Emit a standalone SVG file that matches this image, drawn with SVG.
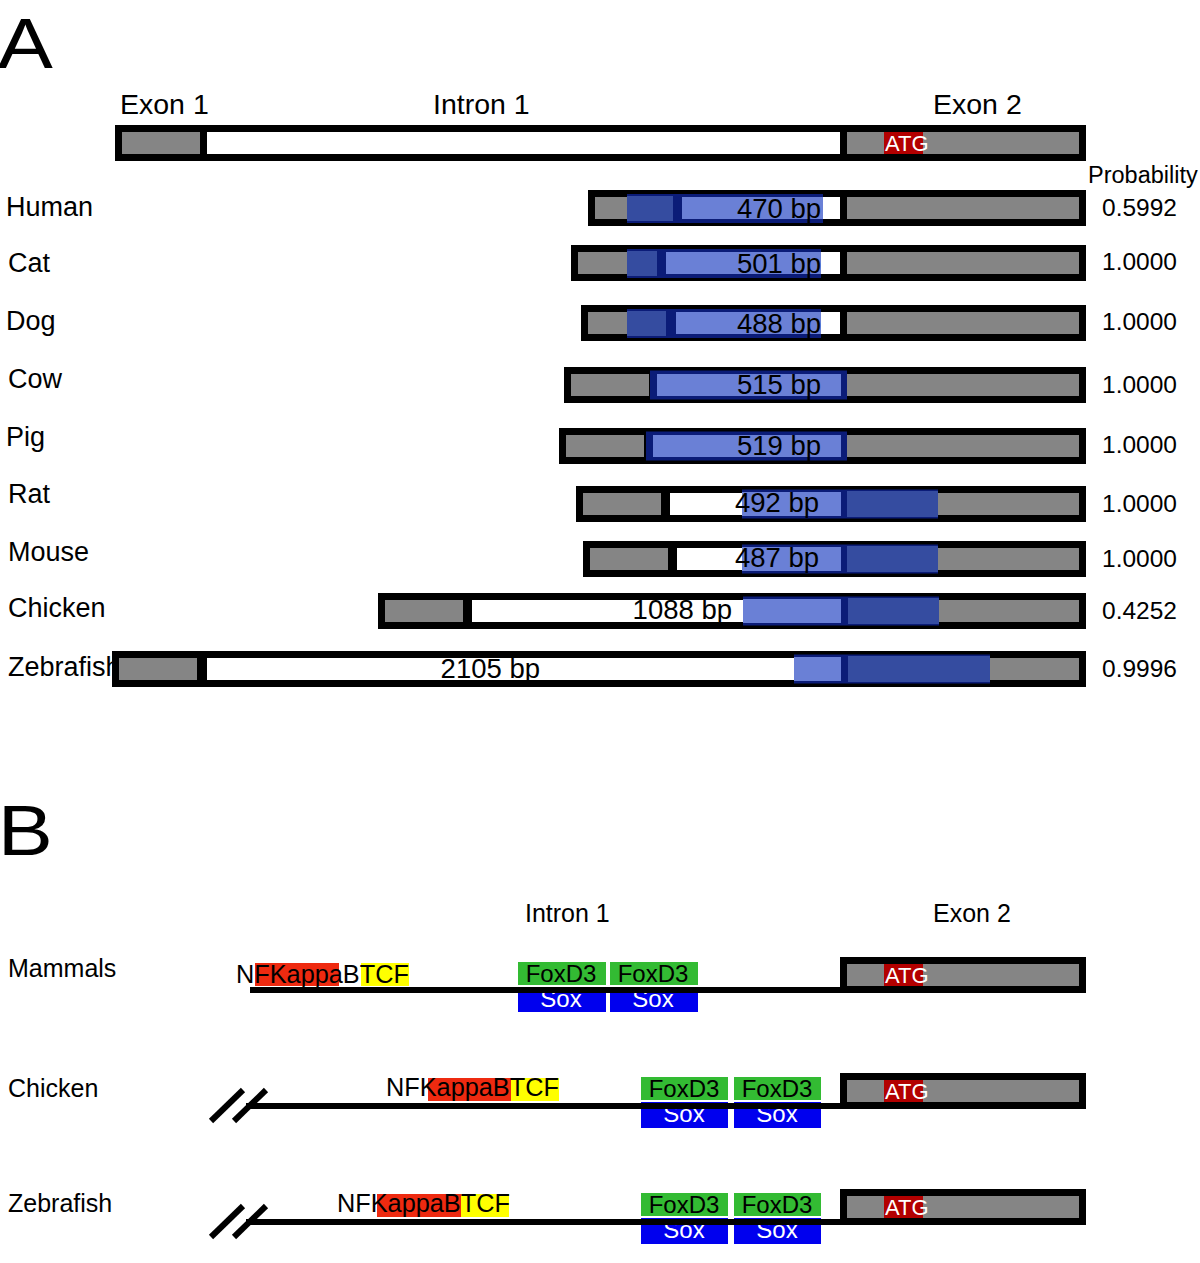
<svg xmlns="http://www.w3.org/2000/svg" width="1200" height="1263" viewBox="0 0 1200 1263">
<style>
text{font-family:"Liberation Sans",Arial,sans-serif;fill:#000}
.big{font-size:70px}
.hd{font-size:28.5px}
.sp{font-size:27px}
.pr{font-size:24.5px}
.bp{font-size:27.5px;text-anchor:end}
.atg{font-size:22px;fill:#fff}
.k{fill:#000}
.g{fill:#858585}
.w{fill:#fff}
.nv{fill:#0b1c78}
.db{fill:#354ca0}
.lb{fill:#6a80d6}
.red{fill:#b30000}
.nf{fill:#ee2a10}
.ye{fill:#ffff00}
.gr{fill:#33bb33}
.bl{fill:#0000ee}
.tf{font-size:24px;text-anchor:middle}
.sx{font-size:24px;text-anchor:middle;fill:#fff}
.bl2{font-size:25px}
</style>

<g id="panelA">
<text class="big" x="-2" y="68" transform="scale(1.18,1)">A</text>
<text class="hd" x="120" y="114">Exon 1</text>
<text class="hd" x="433" y="114">Intron 1</text>
<text class="hd" x="933" y="114">Exon 2</text>
<text x="1088" y="183" style="font-size:23.5px">Probability</text>

<g id="gene">
<rect x="115" y="125" width="971" height="36" class="k"/>
<rect x="122" y="132" width="78" height="22" class="g"/>
<rect x="207" y="132" width="633" height="22" class="w"/>
<rect x="847" y="132" width="232" height="22" class="g"/>
<rect x="884" y="132" width="39" height="22" class="red"/>
<text class="atg" x="885" y="151">ATG</text>
</g>

<g id="human">
<text class="sp" x="6" y="216">Human</text>
<rect x="588" y="190" width="498" height="36" class="k"/>
<rect x="595" y="197" width="90" height="22" class="g"/>
<rect x="685" y="197" width="155" height="22" class="w"/>
<rect x="847" y="197" width="232" height="22" class="g"/>
<rect x="627" y="194" width="196" height="29" class="nv"/>
<rect x="627" y="196" width="46" height="25" class="db"/>
<rect x="682" y="197" width="141" height="22" class="lb"/>
<text class="bp" x="821" y="218">470 bp</text>
<text class="pr" x="1102" y="216">0.5992</text>
</g>

<g id="cat">
<text class="sp" x="8" y="272">Cat</text>
<rect x="571" y="245" width="515" height="36" class="k"/>
<rect x="578" y="252" width="90" height="22" class="g"/>
<rect x="668" y="252" width="172" height="22" class="w"/>
<rect x="847" y="252" width="232" height="22" class="g"/>
<rect x="627" y="249" width="194" height="29" class="nv"/>
<rect x="627" y="251" width="30" height="25" class="db"/>
<rect x="666" y="252" width="155" height="22" class="lb"/>
<text class="bp" x="821" y="273">501 bp</text>
<text class="pr" x="1102" y="270">1.0000</text>
</g>

<g id="dog">
<text class="sp" x="6" y="330">Dog</text>
<rect x="581" y="305" width="505" height="36" class="k"/>
<rect x="588" y="312" width="90" height="22" class="g"/>
<rect x="678" y="312" width="162" height="22" class="w"/>
<rect x="847" y="312" width="232" height="22" class="g"/>
<rect x="627" y="309" width="194" height="29" class="nv"/>
<rect x="627" y="311" width="39" height="25" class="db"/>
<rect x="676" y="312" width="145" height="22" class="lb"/>
<text class="bp" x="821" y="333">488 bp</text>
<text class="pr" x="1102" y="330">1.0000</text>
</g>

<g id="cow">
<text class="sp" x="8" y="388">Cow</text>
<rect x="564" y="367" width="522" height="36" class="k"/>
<rect x="571" y="374" width="78" height="22" class="g"/>
<rect x="847" y="374" width="232" height="22" class="g"/>
<rect x="650" y="370.5" width="197" height="29" class="nv"/>
<rect x="657" y="374" width="184" height="22" class="lb"/>
<text class="bp" x="821" y="394">515 bp</text>
<text class="pr" x="1102" y="393">1.0000</text>
</g>

<g id="pig">
<text class="sp" x="6" y="446">Pig</text>
<rect x="559" y="428" width="527" height="36" class="k"/>
<rect x="566" y="435" width="78" height="22" class="g"/>
<rect x="847" y="435" width="232" height="22" class="g"/>
<rect x="646" y="431.5" width="201" height="29" class="nv"/>
<rect x="653" y="435" width="188" height="22" class="lb"/>
<text class="bp" x="821" y="455">519 bp</text>
<text class="pr" x="1102" y="453">1.0000</text>
</g>

<g id="rat">
<text class="sp" x="8" y="503">Rat</text>
<rect x="576" y="486" width="510" height="36" class="k"/>
<rect x="583" y="493" width="78" height="22" class="g"/>
<rect x="670" y="493" width="170" height="22" class="w"/>
<rect x="847" y="493" width="232" height="22" class="g"/>
<rect x="742" y="489.5" width="196" height="29" class="nv"/>
<rect x="742" y="492" width="99" height="24" class="lb"/>
<rect x="847" y="491" width="91" height="26" class="db"/>
<text class="bp" x="819" y="512">492 bp</text>
<text class="pr" x="1102" y="512">1.0000</text>
</g>

<g id="mouse">
<text class="sp" x="8" y="561">Mouse</text>
<rect x="583" y="541" width="503" height="36" class="k"/>
<rect x="590" y="548" width="78" height="22" class="g"/>
<rect x="677" y="548" width="163" height="22" class="w"/>
<rect x="847" y="548" width="232" height="22" class="g"/>
<rect x="742" y="544.5" width="196" height="29" class="nv"/>
<rect x="742" y="547" width="99" height="24" class="lb"/>
<rect x="847" y="546" width="91" height="26" class="db"/>
<text class="bp" x="819" y="567">487 bp</text>
<text class="pr" x="1102" y="567">1.0000</text>
</g>

<g id="chicken">
<text class="sp" x="8" y="617">Chicken</text>
<rect x="378" y="593" width="708" height="36" class="k"/>
<rect x="385" y="600" width="78" height="22" class="g"/>
<rect x="472" y="600" width="368" height="22" class="w"/>
<rect x="847" y="600" width="232" height="22" class="g"/>
<rect x="743" y="596.5" width="196" height="29" class="nv"/>
<rect x="743" y="599" width="98" height="24" class="lb"/>
<rect x="848" y="598" width="91" height="26" class="db"/>
<text class="bp" x="732" y="619">1088 bp</text>
<text class="pr" x="1102" y="619">0.4252</text>
</g>

<g id="zebrafish">
<text class="sp" x="8" y="676">Zebrafish</text>
<rect x="112" y="651" width="974" height="36" class="k"/>
<rect x="119" y="658" width="78" height="22" class="g"/>
<rect x="207" y="658" width="633" height="22" class="w"/>
<rect x="847" y="658" width="232" height="22" class="g"/>
<rect x="794" y="654.5" width="196" height="29" class="nv"/>
<rect x="794" y="657" width="47" height="24" class="lb"/>
<rect x="848" y="656" width="142" height="26" class="db"/>
<text class="bp" x="540" y="678">2105 bp</text>
<text class="pr" x="1102" y="677">0.9996</text>
</g>
</g>

<g id="panelB">
<text class="big" x="-2" y="855" transform="scale(1.18,1)">B</text>
<text class="bl2" x="525" y="922">Intron 1</text>
<text class="bl2" x="933" y="922">Exon 2</text>

<g id="mammals">
<text class="bl2" x="8" y="977">Mammals</text>
<rect x="840" y="957" width="246" height="36" class="k"/>
<rect x="847" y="964" width="232" height="22" class="g"/>
<rect x="884" y="964" width="39" height="22" class="red"/>
<text class="atg" x="885" y="983">ATG</text>
<rect x="255" y="963" width="84" height="23" class="nf"/>
<rect x="361" y="963" width="48" height="23" class="ye"/>
<text x="236" y="983" style="font-size:25.3px">NFKappaBTCF</text>
<rect x="518" y="962" width="88" height="23" class="gr"/>
<rect x="610" y="962" width="88" height="23" class="gr"/>
<rect x="518" y="987" width="88" height="25" class="bl"/>
<rect x="610" y="987" width="88" height="25" class="bl"/>
<text class="tf" x="561" y="982">FoxD3</text>
<text class="tf" x="653" y="982">FoxD3</text>
<text class="sx" x="561" y="1007">Sox</text>
<text class="sx" x="653" y="1007">Sox</text>
</g>

<g id="chickenB">
<text class="bl2" x="8" y="1097">Chicken</text>
<rect x="840" y="1073" width="246" height="36" class="k"/>
<rect x="847" y="1080" width="232" height="22" class="g"/>
<rect x="884" y="1080" width="39" height="22" class="red"/>
<text class="atg" x="885" y="1099">ATG</text>
<rect x="428" y="1078" width="83" height="23" class="nf"/>
<rect x="511" y="1078" width="48" height="23" class="ye"/>
<text x="386" y="1096" style="font-size:25.3px">NFKappaBTCF</text>
<rect x="641" y="1077" width="87" height="23" class="gr"/>
<rect x="734" y="1077" width="87" height="23" class="gr"/>
<rect x="641" y="1102" width="87" height="26" class="bl"/>
<rect x="734" y="1102" width="87" height="26" class="bl"/>
<text class="tf" x="684" y="1097">FoxD3</text>
<text class="tf" x="777" y="1097">FoxD3</text>
<text class="sx" x="684" y="1122">Sox</text>
<text class="sx" x="777" y="1122">Sox</text>
</g>

<g id="zebrafishB">
<text class="bl2" x="8" y="1212">Zebrafish</text>
<rect x="840" y="1189" width="246" height="36" class="k"/>
<rect x="847" y="1196" width="232" height="22" class="g"/>
<rect x="884" y="1196" width="39" height="22" class="red"/>
<text class="atg" x="885" y="1215">ATG</text>
<rect x="377" y="1194" width="84" height="23" class="nf"/>
<rect x="461" y="1194" width="48" height="23" class="ye"/>
<text x="337" y="1212" style="font-size:25.3px">NFKappaBTCF</text>
<rect x="641" y="1193" width="87" height="23" class="gr"/>
<rect x="734" y="1193" width="87" height="23" class="gr"/>
<rect x="641" y="1218" width="87" height="26" class="bl"/>
<rect x="734" y="1218" width="87" height="26" class="bl"/>
<text class="tf" x="684" y="1213">FoxD3</text>
<text class="tf" x="777" y="1213">FoxD3</text>
<text class="sx" x="684" y="1238">Sox</text>
<text class="sx" x="777" y="1238">Sox</text>
</g>
</g>

<g id="connectors" stroke="#000" fill="none">
<line x1="250" y1="990" x2="846" y2="990" stroke-width="6"/>
<line x1="246" y1="1106" x2="846" y2="1106" stroke-width="6"/>
<line x1="246" y1="1222" x2="846" y2="1222" stroke-width="6"/>
<line x1="211" y1="1121" x2="243" y2="1090" stroke-width="6"/>
<line x1="234" y1="1121" x2="266" y2="1090" stroke-width="6"/>
<line x1="211" y1="1237" x2="243" y2="1206" stroke-width="6"/>
<line x1="234" y1="1237" x2="266" y2="1206" stroke-width="6"/>
</g>
</svg>
